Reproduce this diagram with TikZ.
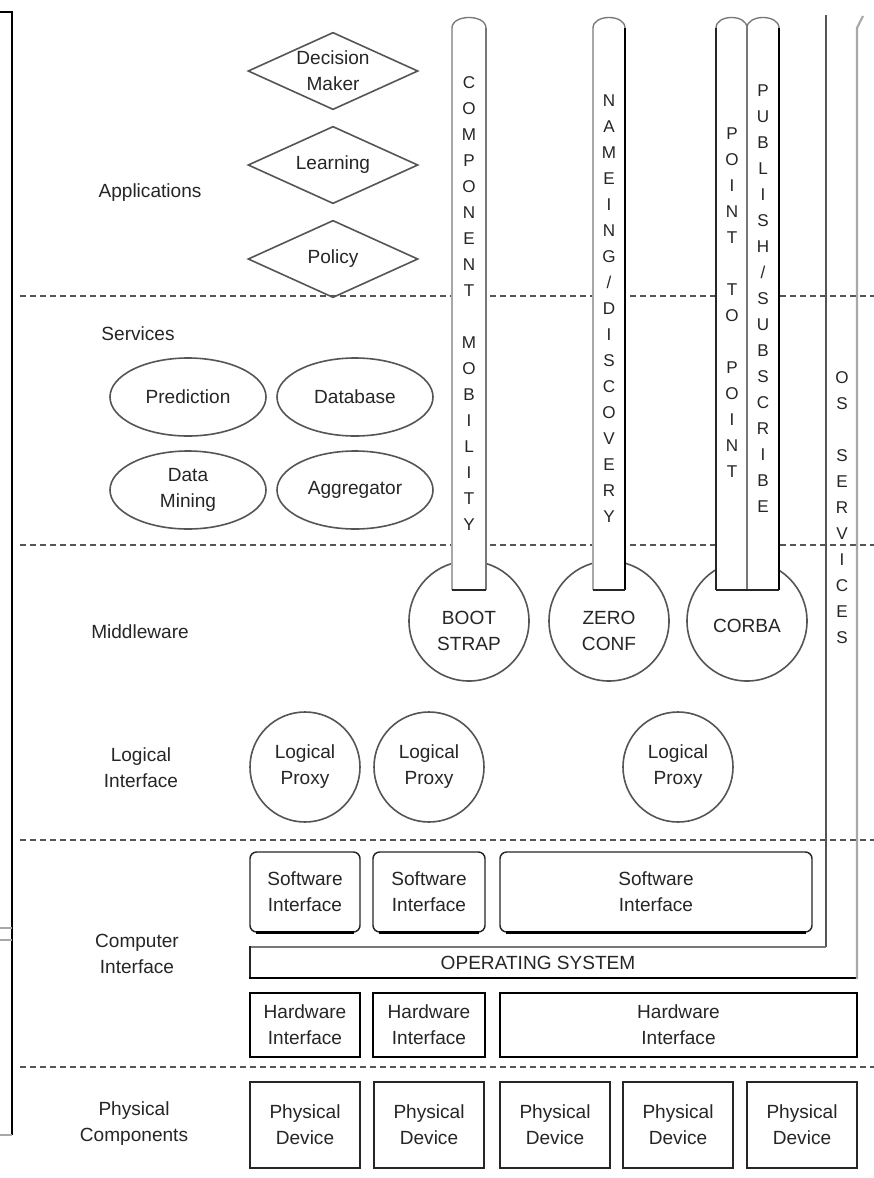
\documentclass[tikz,border=0pt]{standalone}
\usepackage{fontspec}
\setmainfont{Liberation Sans}
\usetikzlibrary{shapes.geometric}
\definecolor{ink}{HTML}{262626}
\definecolor{edge}{HTML}{555555}
\definecolor{mid}{HTML}{777777}
\definecolor{pale}{HTML}{A8A8A8}
\begin{document}
\begin{tikzpicture}[x=0.75pt,y=-0.75pt,
  every node/.style={font=\fontsize{14.3pt}{19.5pt}\selectfont, text=ink, align=center, inner sep=0pt},
  sep/.style={draw=edge, line width=1.2pt, dash pattern=on 4.5pt off 3pt},
  choice/.style={diamond, draw=edge, line width=1.2pt, minimum width=127.5pt, minimum height=58pt},
  service/.style={ellipse, draw=edge, line width=1.2pt, minimum width=117pt, minimum height=58.5pt},
  mwcircle/.style={circle, draw=edge, line width=1.2pt, minimum size=90pt},
  proxy/.style={circle, draw=edge, line width=1.2pt, minimum size=82.5pt},
  swbox/.style={draw=ink, rounded corners=5pt, line width=1.1pt, minimum height=60pt},
  hwbox/.style={draw=black, line width=2pt, minimum height=48pt},
  devbox/.style={draw=ink, line width=1.5pt, minimum width=82.5pt, minimum height=64pt},
  letters/.style={font=\fontsize{12.8pt}{19.5pt}\selectfont, anchor=north},
  tube/.style={line width=1.3pt},
]
\useasboundingbox (0,0) rectangle (874,1178);
\fill[white] (0,0) rectangle (874,1178);

% frame edge on the left
\draw[black, line width=1.5pt] (0,12) -- (12,12) -- (12,1135);
\draw[pale, line width=1.5pt] (0,1135) -- (12,1135);
\draw[pale, line width=1.2pt] (0,928) -- (12,928) (0,940) -- (12,940);

% layer separators
\foreach \y in {296,545,840,1067} \draw[sep] (20,\y) -- (874,\y);

% layer names
\node (lApp) at (150,193) {Applications};
\node (lSrv) at (138,334) {Services};
\node (lMid) at (140,632) {Middleware};
\node (lLog) at (141,768) {Logical\\Interface};
\node (lCmp) at (137,954) {Computer\\Interface};
\node (lPhy) at (134,1124) {Physical\\Components};

% applications
\node[choice] (dDec) at (333,71) {};
\node (tDec) at (dDec) {Decision\\Maker};
\node[choice] (dLrn) at (333,165) {};
\node (tLrn) at (dLrn) {Learning};
\node[choice] (dPol) at (333,259) {};
\node (tPol) at (dPol) {Policy};

% services
\node[service] (sPre) at (188,397) {Prediction};
\node[service] (sDb)  at (355,397) {Database};
\node[service] (sMin) at (188,490) {Data\\Mining};
\node[service] (sAgg) at (355,490) {Aggregator};

% middleware
\node[mwcircle] (mBoot) at (469,621) {};
\node[mwcircle] (mZero) at (609,621) {};
\node[mwcircle] (mCorba) at (747,621) {};

% logical proxies
\node[proxy] (p1) at (305,767) {Logical\\Proxy};
\node[proxy] (p2) at (429,767) {Logical\\Proxy};
\node[proxy] (p3) at (678,767) {Logical\\Proxy};

% vertical service columns
\fill[white] (452,20) rectangle (486,590);
\draw[pale, tube] (452,590) -- (452,28);
\draw[mid, tube] (486,28) -- (486,590);
\draw[ink, tube] (452,590) -- (486,590);
\draw[mid, line width=1pt] (452,28) .. controls (452,14) and (486,14) .. (486,28);

\fill[white] (593,20) rectangle (625,590);
\draw[pale, tube] (593,590) -- (593,28);
\draw[black, tube] (625,28) -- (625,590);
\draw[ink, tube] (593,590) -- (625,590);
\draw[mid, line width=1pt] (593,28) .. controls (593,14) and (625,14) .. (625,28);

\fill[white] (716,20) rectangle (779,590);
\draw[ink, tube] (716,590) -- (716,28);
\draw[mid, tube] (747,28) -- (747,590);
\draw[black, tube] (779,28) -- (779,590);
\draw[ink, tube] (716,590) -- (779,590);
\draw[mid, line width=1pt] (716,28) .. controls (716,14) and (747,14) .. (747,28)
                             .. controls (747,14) and (779,14) .. (779,28);

% middleware names
\node (tBoot) at ([yshift=-7.5pt]mBoot) {BOOT\\STRAP};
\node (tZero) at ([yshift=-7.5pt]mZero) {ZERO\\CONF};
\node (tCorba) at ([yshift=-4pt]mCorba) {CORBA};

% column captions, one letter per line
\node[letters] (vComp) at (469,76) {C\\O\\M\\P\\O\\N\\E\\N\\T\\\strut\\M\\O\\B\\I\\L\\I\\T\\Y};
\node[letters] (vName) at (609,94) {N\\A\\M\\E\\I\\N\\G\\/\\D\\I\\S\\C\\O\\V\\E\\R\\Y};
\node[letters] (vPoint) at (732,127) {P\\O\\I\\N\\T\\\strut\\T\\O\\\strut\\P\\O\\I\\N\\T};
\node[letters] (vPub) at (763,84) {P\\U\\B\\L\\I\\S\\H\\/\\S\\U\\B\\S\\C\\R\\I\\B\\E};
\node[letters] (vOs) at (842,371) {O\\S\\\strut\\S\\E\\R\\V\\I\\C\\E\\S};

% operating system with its service column
\draw[edge, line width=1.5pt] (826,15) -- (826,947);
\draw[mid, line width=1.5pt] (826,947) -- (250,947);
\draw[ink, line width=1.8pt] (250,946) -- (250,978);
\draw[black, line width=2.2pt] (249,978) -- (857,978);
\draw[pale, line width=1.6pt] (857,979) -- (857,28) -- (863,16);
\node (tOs) at (538,963) {OPERATING SYSTEM};

% software interfaces
\node[swbox, minimum width=82.5pt] (sw1) at (305,892) {Software\\Interface};
\node[swbox, minimum width=84pt] (sw2) at (429,892) {Software\\Interface};
\node[swbox, minimum width=234pt] (sw3) at (656,892) {Software\\Interface};
\foreach \b in {sw1,sw2,sw3}
  \draw[black, line width=2.2pt] ([xshift=5pt]\b.south west) -- ([xshift=-5pt]\b.south east);

% hardware interfaces
\node[hwbox, minimum width=82.5pt] (hw1) at (305,1025) {Hardware\\Interface};
\node[hwbox, minimum width=84pt] (hw2) at (429,1025) {Hardware\\Interface};
\node[hwbox, minimum width=267.75pt] (hw3) at (678.5,1025) {Hardware\\Interface};

% physical devices
\foreach \i/\x in {1/305,2/429,3/555,4/678,5/802}
  \node[devbox] (dev\i) at (\x,1125) {Physical\\Device};
\end{tikzpicture}
\end{document}
